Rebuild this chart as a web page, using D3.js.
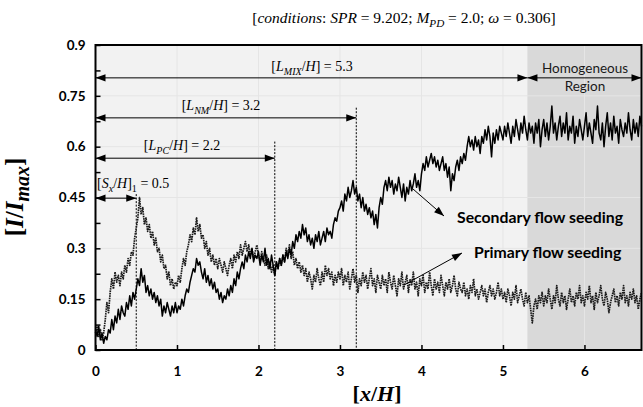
<!DOCTYPE html>
<html>
<head>
<meta charset="utf-8">
<script src="https://cdn.jsdelivr.net/npm/d3@7"></script>
<style>
  body { margin: 0; background: #fff; }
  svg { display: block; }
</style>
</head>
<body>
<script>
// Normalised intensity I/Imax along the mixing channel, sampled every xStep (x/H)
const xStep = 0.02;

const secondaryFlow = [
  0.06,0.04,0.07,0.03,0.05,0.02,0.04,0.03,0.06,0.05,0.09,0.06,0.10,0.08,0.12,0.09,0.13,0.11,0.10,0.14,0.12,0.16,0.13,0.17,0.15,
  0.18,0.21,0.19,0.24,0.20,0.22,0.17,0.19,0.16,0.18,0.15,0.17,0.14,0.16,0.13,0.15,0.10,0.13,0.11,0.14,0.12,0.10,0.13,0.11,0.14,
  0.11,0.13,0.12,0.15,0.13,0.16,0.18,0.17,0.20,0.22,0.24,0.23,0.27,0.25,0.26,0.23,0.21,0.24,0.20,0.22,0.19,0.21,0.18,0.20,0.17,
  0.18,0.15,0.17,0.14,0.16,0.15,0.18,0.16,0.19,0.17,0.21,0.19,0.23,0.21,0.24,0.26,0.24,0.28,0.26,0.29,0.27,0.30,0.26,0.28,0.27,
  0.29,0.25,0.28,0.26,0.30,0.25,0.27,0.24,0.28,0.25,0.22,0.26,0.24,0.27,0.25,0.28,0.26,0.29,0.27,0.30,0.28,0.32,0.30,0.34,0.32,
  0.35,0.33,0.37,0.34,0.36,0.32,0.34,0.31,0.33,0.30,0.34,0.32,0.35,0.31,0.33,0.35,0.32,0.36,0.34,0.35,0.33,0.37,0.39,0.38,0.41,
  0.42,0.44,0.41,0.46,0.44,0.48,0.45,0.47,0.50,0.46,0.48,0.44,0.46,0.42,0.45,0.41,0.43,0.40,0.42,0.39,0.41,0.37,0.40,0.36,0.42,
  0.45,0.43,0.48,0.50,0.47,0.51,0.48,0.50,0.46,0.49,0.47,0.51,0.48,0.45,0.49,0.44,0.48,0.46,0.50,0.47,0.49,0.52,0.48,0.50,0.47,
  0.52,0.55,0.53,0.57,0.54,0.56,0.58,0.55,0.57,0.54,0.56,0.53,0.55,0.57,0.53,0.55,0.51,0.54,0.47,0.52,0.50,0.54,0.56,0.53,0.57,
  0.55,0.58,0.56,0.60,0.63,0.60,0.62,0.59,0.63,0.60,0.62,0.58,0.63,0.61,0.65,0.62,0.66,0.63,0.57,0.64,0.61,0.65,0.62,0.66,0.64,
  0.62,0.66,0.63,0.67,0.64,0.61,0.66,0.63,0.68,0.65,0.62,0.67,0.64,0.69,0.65,0.62,0.67,0.64,0.66,0.61,0.67,0.64,0.68,0.60,0.65,
  0.68,0.63,0.67,0.62,0.66,0.72,0.64,0.67,0.62,0.66,0.69,0.63,0.67,0.64,0.70,0.62,0.66,0.64,0.69,0.61,0.66,0.63,0.68,0.65,0.62,
  0.66,0.70,0.63,0.67,0.64,0.61,0.68,0.65,0.72,0.64,0.62,0.67,0.60,0.66,0.70,0.63,0.67,0.62,0.69,0.64,0.66,0.61,0.68,0.65,0.63,
  0.67,0.64,0.70,0.65,0.62,0.68,0.64,0.67,0.63,0.69,0.66
];

const primaryFlow = [
  0.05,0.07,0.04,0.06,0.03,0.05,0.09,0.14,0.11,0.17,0.21,0.18,0.23,0.20,0.22,0.19,0.23,0.21,0.25,0.23,0.27,0.25,0.29,0.28,0.33,
  0.36,0.39,0.45,0.40,0.42,0.37,0.39,0.35,0.37,0.33,0.35,0.31,0.33,0.29,0.30,0.26,0.28,0.24,0.25,0.21,0.23,0.19,0.21,0.18,0.20,
  0.19,0.22,0.20,0.24,0.27,0.25,0.29,0.31,0.34,0.32,0.36,0.34,0.39,0.35,0.37,0.33,0.34,0.30,0.32,0.28,0.30,0.26,0.28,0.25,0.27,
  0.24,0.27,0.25,0.23,0.26,0.24,0.22,0.25,0.27,0.24,0.28,0.26,0.29,0.27,0.31,0.28,0.30,0.32,0.29,0.31,0.28,0.30,0.27,0.29,0.31,
  0.28,0.26,0.29,0.27,0.25,0.28,0.24,0.26,0.23,0.25,0.22,0.26,0.24,0.27,0.25,0.28,0.26,0.30,0.28,0.31,0.27,0.29,0.25,0.27,0.24,
  0.26,0.23,0.25,0.22,0.24,0.20,0.23,0.21,0.18,0.22,0.20,0.24,0.21,0.19,0.23,0.20,0.25,0.22,0.24,0.21,0.23,0.19,0.22,0.20,0.23,
  0.21,0.24,0.19,0.22,0.20,0.23,0.18,0.21,0.24,0.20,0.22,0.17,0.21,0.19,0.23,0.20,0.22,0.18,0.21,0.24,0.19,0.21,0.17,0.22,0.20,
  0.18,0.22,0.19,0.21,0.17,0.23,0.20,0.18,0.22,0.19,0.16,0.21,0.19,0.23,0.18,0.20,0.22,0.17,0.21,0.19,0.23,0.18,0.20,0.16,0.21,
  0.19,0.22,0.17,0.20,0.18,0.23,0.19,0.16,0.21,0.18,0.20,0.17,0.22,0.19,0.16,0.20,0.18,0.21,0.17,0.19,0.22,0.18,0.16,0.20,0.18,
  0.17,0.20,0.16,0.18,0.15,0.19,0.17,0.21,0.16,0.18,0.15,0.17,0.19,0.16,0.18,0.14,0.17,0.19,0.16,0.18,0.15,0.17,0.20,0.16,0.18,
  0.15,0.17,0.14,0.18,0.16,0.13,0.17,0.15,0.19,0.14,0.16,0.18,0.15,0.13,0.17,0.14,0.16,0.12,0.08,0.13,0.15,0.12,0.16,0.14,0.17,
  0.13,0.16,0.14,0.18,0.15,0.12,0.16,0.14,0.19,0.15,0.13,0.17,0.14,0.16,0.12,0.15,0.18,0.14,0.16,0.13,0.17,0.15,0.19,0.14,0.16,
  0.13,0.17,0.15,0.19,0.14,0.16,0.12,0.17,0.14,0.16,0.19,0.15,0.13,0.17,0.15,0.11,0.14,0.16,0.18,0.14,0.16,0.13,0.17,0.15,0.19,
  0.14,0.16,0.13,0.17,0.15,0.18,0.14,0.16,0.12,0.15,0.17
];

const xTicks = [0, 1, 2, 3, 4, 5, 6];
const yTicks = [0, 0.15, 0.3, 0.45, 0.6, 0.75, 0.9];
const yMinorTicks = [0.075, 0.225, 0.375, 0.525, 0.675, 0.825];

// Characteristic lengths (x/H) marked above the curves
const lengthNames = ["MIX", "NM", "PC", "x"];
const lengthValues = [5.3, 3.2, 2.2, 0.5];
const homogeneousStart = 5.3;

const W = 643, H = 407;
const x = d3.scaleLinear().domain([0, 6.7]).range([95.5, 641.5]);
const y = d3.scaleLinear().domain([0, 0.9]).range([350, 45]);

const svg = d3.select("body").append("svg")
  .attr("width", W).attr("height", H)
  .attr("viewBox", `0 0 ${W} ${H}`);

// plot background and the homogeneous region
svg.append("rect")
  .attr("x", x(0)).attr("y", y(0.9))
  .attr("width", x(6.7) - x(0)).attr("height", y(0) - y(0.9))
  .attr("fill", "#f2f2f2");
svg.append("rect")
  .attr("x", x(homogeneousStart)).attr("y", y(0.9))
  .attr("width", x(6.7) - x(homogeneousStart)).attr("height", y(0) - y(0.9))
  .attr("fill", "#d9d9d9");

// grid
const grid = svg.append("g").attr("stroke", "#e5e5e5").attr("stroke-width", 1);
xTicks.filter(d => d > 0).forEach(d => {
  grid.append("line").attr("x1", x(d)).attr("x2", x(d)).attr("y1", y(0)).attr("y2", y(0.9));
});
yTicks.filter(d => d > 0 && d < 0.9).forEach(d => {
  grid.append("line").attr("x1", x(0)).attr("x2", x(6.7)).attr("y1", y(d)).attr("y2", y(d));
});

// dotted markers for each characteristic length
const markTops = [null, 0.715, 0.615, 0.46];
lengthValues.forEach((v, i) => {
  if (markTops[i] === null) return;
  svg.append("line")
    .attr("x1", x(v)).attr("x2", x(v))
    .attr("y1", y(markTops[i])).attr("y2", y(0))
    .attr("stroke", "#000").attr("stroke-width", 1)
    .attr("stroke-dasharray", "2,1.5");
});

// intensity curves
const line = d3.line()
  .x((d, i) => x(i * xStep))
  .y(d => y(d));

svg.append("path")
  .datum(primaryFlow)
  .attr("d", line)
  .attr("fill", "none")
  .attr("stroke", "#1a1a1a")
  .attr("stroke-width", 1.7)
  .attr("stroke-dasharray", "1.6,0.8")
  .attr("stroke-linejoin", "round");

svg.append("path")
  .datum(secondaryFlow)
  .attr("d", line)
  .attr("fill", "none")
  .attr("stroke", "#000")
  .attr("stroke-width", 1.5)
  .attr("stroke-linejoin", "round");

// arrows
function arrowHead(g, x0, y0, x1, y1) {
  const a = Math.atan2(y1 - y0, x1 - x0);
  const L = 10, Wd = 3.6;
  const bx = x1 - L * Math.cos(a), by = y1 - L * Math.sin(a);
  const px = -Math.sin(a) * Wd, py = Math.cos(a) * Wd;
  g.append("path")
    .attr("d", `M${x1},${y1}L${bx + px},${by + py}L${bx - px},${by - py}Z`)
    .attr("fill", "#000");
}
function arrow(x0, y0, x1, y1, both) {
  const g = svg.append("g");
  g.append("line").attr("x1", x0).attr("y1", y0).attr("x2", x1).attr("y2", y1)
    .attr("stroke", "#000").attr("stroke-width", 1);
  arrowHead(g, x0, y0, x1, y1);
  if (both) arrowHead(g, x1, y1, x0, y0);
}

const arrowLevels = [0.803, 0.685, 0.566, 0.448];
lengthValues.forEach((v, i) => {
  arrow(x(0), y(arrowLevels[i]), x(v), y(arrowLevels[i]), true);
});
arrow(x(homogeneousStart), y(arrowLevels[0]), x(6.7), y(arrowLevels[0]), true);

arrow(413, 189, 444, 216, false);
arrow(404, 285, 462, 253, false);

// frame
svg.append("rect")
  .attr("x", x(0)).attr("y", y(0.9))
  .attr("width", x(6.7) - x(0)).attr("height", y(0) - y(0.9))
  .attr("fill", "none").attr("stroke", "#000").attr("stroke-width", 2);

// axes with inward ticks
const sans = "Lato, 'Open Sans', sans-serif";
const yAxis = svg.append("g")
  .attr("transform", `translate(${x(0)},0)`)
  .call(d3.axisLeft(y).tickValues(yTicks).tickSize(-5).tickPadding(10)
    .tickFormat(d => String(+d.toFixed(2))));
yAxis.select(".domain").remove();
yAxis.selectAll("line").attr("stroke", "#000").attr("stroke-width", 1.5);
yAxis.selectAll("text").attr("font-family", sans).attr("font-weight", 700)
  .attr("font-size", 13.5).attr("fill", "#000");

const yMinor = svg.append("g")
  .attr("transform", `translate(${x(0)},0)`)
  .call(d3.axisLeft(y).tickValues(yMinorTicks).tickSize(-5).tickFormat(""));
yMinor.select(".domain").remove();
yMinor.selectAll("line").attr("stroke", "#000").attr("stroke-width", 1.5);

const xAxis = svg.append("g")
  .attr("transform", `translate(0,${y(0)})`)
  .call(d3.axisBottom(x).tickValues(xTicks).tickSize(-5).tickPadding(16)
    .tickFormat(d => String(d)));
xAxis.select(".domain").remove();
xAxis.selectAll("line").attr("stroke", "#000").attr("stroke-width", 1.5);
xAxis.selectAll("text").attr("font-family", sans).attr("font-weight", 700)
  .attr("font-size", 13.5).attr("fill", "#000");

// rich text helper: parts of [text, italic, subscript]
const serif = "'Liberation Serif', 'DejaVu Serif', serif";
function rich(px, py, parts, opts) {
  const t = svg.append("text")
    .attr("x", px).attr("y", py)
    .attr("font-family", serif)
    .attr("font-size", opts.size)
    .attr("font-weight", opts.bold ? 700 : 400)
    .attr("text-anchor", opts.anchor || "start")
    .attr("fill", "#000");
  if (opts.rotate) t.attr("transform", `rotate(-90,${px},${py})`);
  const subScale = opts.subScale || 0.72;
  let shifted = false;
  parts.forEach(([s, it, sub]) => {
    const ts = t.append("tspan").text(s)
      .attr("font-style", it ? "italic" : "normal");
    if (sub && !shifted) { ts.attr("dy", opts.size * 0.25).attr("font-size", opts.size * subScale); shifted = true; }
    else if (sub) { ts.attr("font-size", opts.size * subScale); }
    else if (!sub && shifted) { ts.attr("dy", -opts.size * 0.25); shifted = false; }
  });
  return t;
}

rich(404, 23, [
  ["[", 0], ["conditions", 1], [": ", 0], ["SPR", 1], [" = 9.202;  ", 0],
  ["M", 1], ["PD", 1, 1], [" = 2.0; ", 0], ["ω", 1], [" = 0.306]", 0]
], { size: 15.5, anchor: "middle" });

rich(312, 71, [["[", 0], ["L", 1], ["MIX", 1, 1], ["/", 0], ["H", 1], ["] = " + lengthValues[0], 0]],
  { size: 14, anchor: "middle" });
rich(221, 110, [["[", 0], ["L", 1], ["NM", 1, 1], ["/", 0], ["H", 1], ["] = " + lengthValues[1], 0]],
  { size: 14, anchor: "middle" });
rich(182, 150, [["[", 0], ["L", 1], ["PC", 1, 1], ["/", 0], ["H", 1], ["] = " + lengthValues[2], 0]],
  { size: 14, anchor: "middle" });
rich(97, 188, [["[", 0], ["S", 1], ["x", 1, 1], ["/", 0], ["H", 1], ["]", 0], ["1", 0, 1], [" = " + lengthValues[3], 0]],
  { size: 14, anchor: "start" });

// axis titles
rich(377, 401, [["[", 0], ["x", 1], ["/", 0], ["H", 1], ["]", 0]], { size: 22, bold: true, anchor: "middle" });
rich(23, 197, [["[", 0], ["I", 1], ["/", 0], ["I", 1], ["max", 1, 1], ["]", 0]],
  { size: 25, bold: true, anchor: "middle", rotate: true, subScale: 0.8 });

// region and series labels
const lab = (px, py, s, size, weight) => svg.append("text")
  .attr("x", px).attr("y", py).text(s)
  .attr("font-family", sans).attr("font-size", size).attr("font-weight", weight)
  .attr("text-anchor", "middle").attr("fill", "#1a1a1a");
lab(585, 73, "Homogeneous", 13.5, 400);
lab(585, 91, "Region", 13.5, 400);
svg.append("text").attr("x", 457).attr("y", 223).text("Secondary flow seeding")
  .attr("font-family", sans).attr("font-size", 15.8).attr("font-weight", 700).attr("fill", "#000");
svg.append("text").attr("x", 474).attr("y", 258).text("Primary flow seeding")
  .attr("font-family", sans).attr("font-size", 15.8).attr("font-weight", 700).attr("fill", "#000");
</script>
</body>
</html>
